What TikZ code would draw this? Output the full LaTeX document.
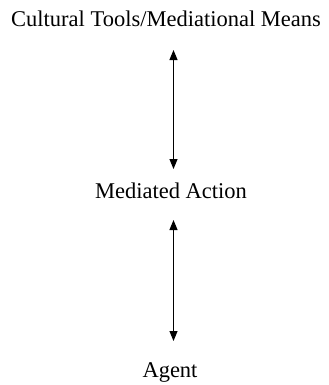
\documentclass[tikz,border=0pt]{standalone}
\usepackage{fontspec}
\setmainfont{Liberation Serif}
\usetikzlibrary{arrows.meta}
\begin{document}
\begin{tikzpicture}[x=1bp,y=-1bp,
  label/.style={font=\fontsize{22.5bp}{27bp}\selectfont, inner sep=0pt, anchor=base},
  link/.style={{Triangle[width=8bp,length=10bp]}-{Triangle[width=8bp,length=10bp]}, line width=1bp}]
  \useasboundingbox (0,0) rectangle (329,385);
  \node[label] (tools) at (166,26) {Cultural Tools/Mediational Means};
  \node[label] (action) at (171,198) {Mediated Action};
  \node[label] (agent) at (170,377) {Agent};
  \coordinate (a1) at (173.5,50);
  \coordinate (a2) at (173.5,169);
  \coordinate (b1) at (173.5,220);
  \coordinate (b2) at (173.5,341);
  \draw[link] (a1) -- (a2);
  \draw[link] (b1) -- (b2);
\end{tikzpicture}
\end{document}
